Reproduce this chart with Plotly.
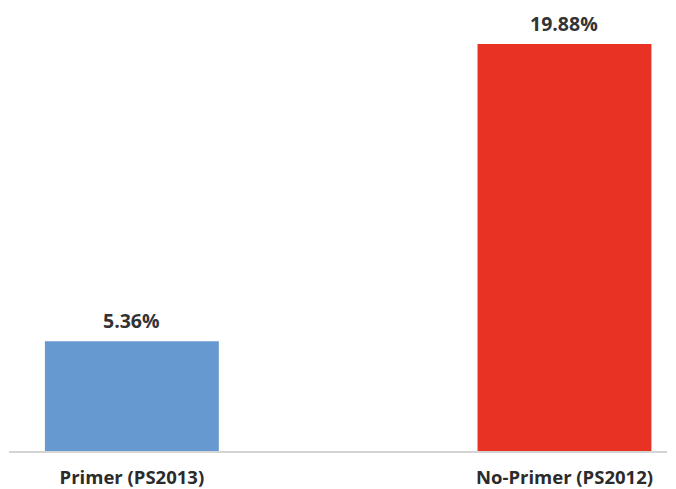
import plotly.graph_objects as go

categories = ["Primer (PS2013)", "No-Primer (PS2012)"]
values = [5.36, 19.88]
colors = ["#6699CF", "#E83324"]

positions = list(range(len(categories)))

fig = go.Figure(
    go.Bar(
        x=positions,
        y=values,
        width=0.402,
        marker=dict(color=colors, line=dict(width=0)),
        hoverinfo="skip",
    )
)

# value labels above each bar
for xpos, v in zip(positions, values):
    fig.add_annotation(
        x=xpos,
        y=v,
        text=f"{v:.2f}%",
        showarrow=False,
        yanchor="bottom",
        yshift=5,
        font=dict(family="Open Sans", size=19.5, color="#333333", weight="bold"),
    )

fig.update_layout(
    width=676,
    height=489,
    margin=dict(l=9, r=9, t=10, b=38),
    paper_bgcolor="white",
    plot_bgcolor="white",
    showlegend=False,
    xaxis=dict(
        range=[-0.284, 1.237],
        tickvals=positions,
        ticktext=categories,
        tickfont=dict(family="Open Sans", size=18.5, color="#2b2b2b", weight="bold"),
        showgrid=False,
        zeroline=False,
        showline=True,
        linecolor="#d4d4d4",
        linewidth=2,
        ticks="outside",
        ticklen=9,
        tickcolor="rgba(0,0,0,0)",
        automargin=False,
    ),
    yaxis=dict(
        range=[0, 21.54],
        visible=False,
    ),
)

fig.write_html("out.html")
